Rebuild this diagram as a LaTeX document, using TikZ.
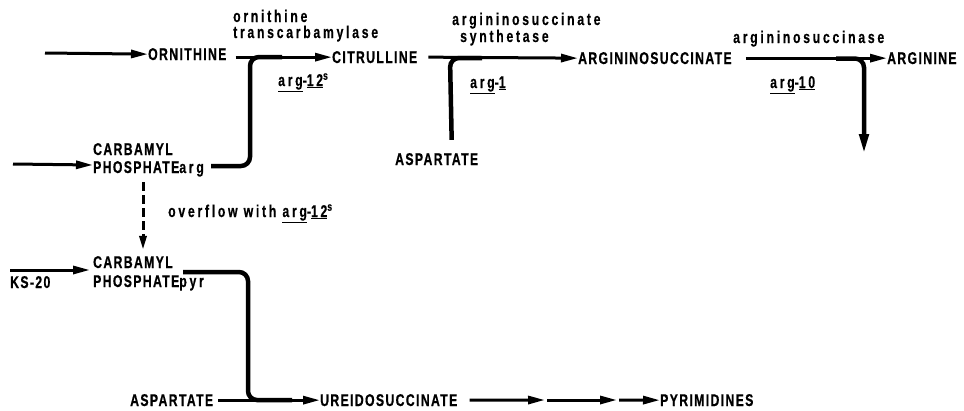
\documentclass[tikz,border=0pt]{standalone}
\usepackage{fontspec}
\usetikzlibrary{arrows.meta,calc}
\newfontfamily\capsfont{Liberation Sans}[FakeStretch=0.72,LetterSpace=8,FakeBold=0.6]
\newfontfamily\lowfont{Liberation Sans}[FakeStretch=0.72,LetterSpace=16,FakeBold=0.4]
\newcommand{\lc}[1]{{\lowfont\bfseries #1}}
\newcommand{\gene}[2]{\lc{\underline{arg}-\underline{#1}#2}}
\tikzset{
  met/.style={font=\capsfont\bfseries\fontsize{17}{20}\selectfont, inner sep=0pt, anchor=base west},
  enz/.style={font=\lowfont\bfseries\fontsize{17}{20}\selectfont, inner sep=0pt, anchor=base west},
  arr/.style={line width=3pt, -{Triangle[length=17pt,width=8pt]}},
  feed/.style={line width=4.5pt, rounded corners=9pt},
  dasharr/.style={line width=3pt, dash pattern=on 9pt off 4pt, -{Triangle[length=14pt,width=7pt]}}
}
\begin{document}
\begin{tikzpicture}[x=1pt,y=-1pt]
\fill[white] (0,0) rectangle (964,410);
\useasboundingbox (0,0) rectangle (964,410);

% metabolites
\node[met] (orn) at (148,60) {ORNITHINE};
\node[met] (cit) at (332,63) {CITRULLINE};
\node[met] (as) at (578,64) {ARGININOSUCCINATE};
\node[met] (arg) at (887,64) {ARGININE};
\node[met] (cpa1) at (93,155) {CARBAMYL};
\node[met] (cpa) at (93,173) {PHOSPHATE\lc{arg}};
\node[met] (asp1) at (395,165) {ASPARTATE};
\node[met] (cpb1) at (93,268) {CARBAMYL};
\node[met] (cpb) at (93,287) {PHOSPHATE\lc{pyr}};
\node[met] (ks) at (10,288) {KS-20};
\node[met] (asp2) at (130,406) {ASPARTATE};
\node[met] (ur) at (320,406) {UREIDOSUCCINATE};
\node[met] (pyr) at (660,406) {PYRIMIDINES};

% enzymes and genes
\node[enz] (otc) at (233,22) {ornithine};
\node[enz] (otc2) at (233,38) {transcarbamylase};
\node[enz] (g12) at (278,86) {\gene{12}{\textsuperscript{s}}};
\node[enz] (ass) at (452,25) {argininosuccinate};
\node[enz] (ass2) at (460,42) {synthetase};
\node[enz] (g1) at (470,88) {\gene{1}{}};
\node[enz] (asl) at (733,43) {argininosuccinase};
\node[enz] (g10) at (770,88) {\gene{10}{}};
\node[enz] (ovf) at (168,217) {overflow with \gene{12}{\textsuperscript{s}}};

% junction points
\coordinate (in1) at (45,53);
\coordinate (in2) at (13,164);
\coordinate (j1) at (250,57);
\coordinate (j1e) at (282,57);
\coordinate (j2) at (450,58);
\coordinate (j2e) at (482,58);
\coordinate (j3s) at (836,58.5);
\coordinate (j3) at (864,58.5);
\coordinate (j3b) at (864,154);
\coordinate (j4) at (248,400);
\coordinate (j4e) at (292,400);
\coordinate (m1) at (545,400);
\coordinate (m2) at (617,400);

% arginine branch
\draw[arr] (in1) -- (orn.west);
\draw[arr] ($(orn.east |- cit.west)+(9,0)$) -- (cit.west);
\draw[arr] (in2) -- ($(cpa.base west)+(0,-8)$);
\draw[feed] ($(cpa.base east)+(7,-7)$) -| (j1) -- (j1e);
\draw[arr] ($(cit.east)+(11,0)$) -- (as.west);
\draw[feed] ($(asp1.north)+(15,-13)$) -- (j2) -- (j2e);
\draw[arr] ($(as.east)+(14,0)$) -- (arg.west);
\draw[feed, -{Triangle[length=20pt,width=9pt]}] (j3s) -- (j3) -- (j3b);

% overflow into the pyrimidine branch
\draw[dasharr] ($(cpa.base west)+(50,9)$) -- ($(cpb1.north west)+(50,-6)$);
\draw[arr] ($(ks.base west)+(0,-18)$) -- ($(cpb.base west)+(-3,-17)$);
\draw[feed] ($(cpb.base west)+(90,-15)$) -| (j4) -- (j4e);
\draw[arr] ($(asp2.east)+(5,0)$) -- (ur.west);
\draw[arr] ($(ur.east)+(12,0)$) -- (m1);
\draw[arr] ($(m1)+(2,0)$) -- (m2);
\draw[arr] ($(m2)+(2,0)$) -- (pyr.west);
\end{tikzpicture}
\end{document}
